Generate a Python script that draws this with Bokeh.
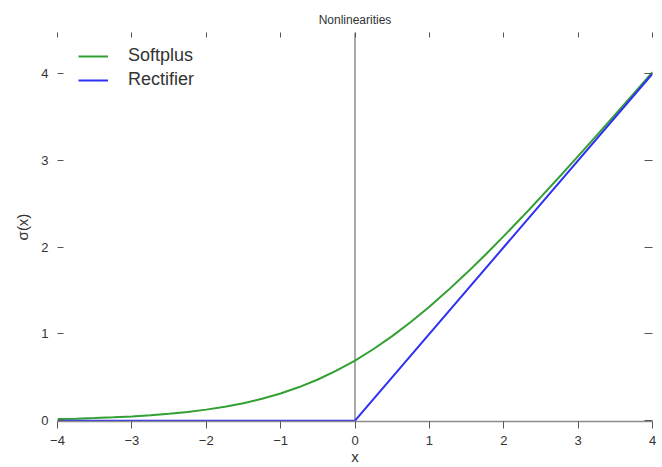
from bokeh.plotting import figure
from bokeh.models import (Range1d, LinearAxis, Span, Legend, LegendItem,
                          FixedTicker, CustomJSTickFormatter)
from bokeh.embed import file_html
from bokeh.resources import INLINE

# ---- data ----
softplus_x = [-4.0, -3.75, -3.5, -3.25, -3.0, -2.75, -2.5, -2.25, -2.0, -1.75, -1.5,
              -1.25, -1.0, -0.75, -0.5, -0.25, 0.0, 0.25, 0.5, 0.75, 1.0, 1.25, 1.5,
              1.75, 2.0, 2.25, 2.5, 2.75, 3.0, 3.25, 3.5, 3.75, 4.0]
softplus_y = [0.018, 0.023, 0.030, 0.038, 0.049, 0.062, 0.079, 0.100, 0.127, 0.160, 0.201,
              0.252, 0.313, 0.387, 0.474, 0.576, 0.693, 0.826, 0.974, 1.137, 1.313, 1.502,
              1.701, 1.910, 2.127, 2.350, 2.579, 2.812, 3.049, 3.288, 3.530, 3.773, 4.018]
rectifier_x = [-4, 0, 4]
rectifier_y = [0, 0, 4]
x_ticks = [-4, -3, -2, -1, 0, 1, 2, 3, 4]
y_ticks = [0, 1, 2, 3, 4]

FONT = "Liberation Sans"
TXT = "#333333"
GRAY = "#8c8c8c"

p = figure(width=662, height=467, output_backend="svg", toolbar_location=None,
           x_range=Range1d(-4, 4), y_range=Range1d(-0.01, 4.475),
           x_axis_location=None, y_axis_location=None,
           min_border_left=57, min_border_right=10, min_border_top=32, min_border_bottom=46)
p.outline_line_color = None
p.background_fill_color = "white"
p.border_fill_color = "white"
for g in p.grid:
    g.visible = False

minus_fmt = CustomJSTickFormatter(code="return tick < 0 ? '\\u2212' + Math.abs(tick) : String(tick);")
blank_fmt = CustomJSTickFormatter(code="return '';")

def style_common(ax):
    ax.major_label_text_font = FONT
    ax.major_label_text_font_size = "13px"
    ax.major_label_text_color = TXT
    ax.minor_tick_line_color = None
    ax.major_tick_line_color = "#555555"
    ax.major_tick_line_width = 1

# bottom axis
bottom = LinearAxis(ticker=FixedTicker(ticks=x_ticks), formatter=minus_fmt, axis_label="x")
style_common(bottom)
bottom.axis_line_color = GRAY
bottom.axis_line_width = 1.5
bottom.major_tick_in = 0
bottom.major_tick_out = 7
bottom.major_label_standoff = 7
bottom.axis_label_text_font = FONT
bottom.axis_label_text_font_size = "15px"
bottom.axis_label_text_font_style = "normal"
bottom.axis_label_text_color = TXT
bottom.axis_label_standoff = 0
p.add_layout(bottom, "below")

# left axis
left = LinearAxis(ticker=FixedTicker(ticks=y_ticks), axis_label="σ(x)")
style_common(left)
left.axis_line_color = None
left.major_tick_in = 6
left.major_tick_out = 0
left.major_label_standoff = 9
left.axis_label_text_font = FONT
left.axis_label_text_font_size = "15px"
left.axis_label_text_font_style = "normal"
left.axis_label_text_color = TXT
left.axis_label_standoff = 7
p.add_layout(left, "left")

# top axis (ticks only)
top = LinearAxis(ticker=FixedTicker(ticks=x_ticks), formatter=blank_fmt)
style_common(top)
top.axis_line_color = None
top.major_tick_in = 5
top.major_tick_out = 0
top.major_label_standoff = 0
p.add_layout(top, "above")

# right axis (ticks only)
right = LinearAxis(ticker=FixedTicker(ticks=y_ticks), formatter=blank_fmt)
style_common(right)
right.axis_line_color = None
right.major_tick_in = 8
right.major_tick_out = 0
right.major_label_standoff = 0
p.add_layout(right, "right")

# zero line
p.add_layout(Span(location=0, dimension="height", line_color=GRAY, line_width=1.5,
                  level="underlay"))

r_soft = p.line(softplus_x, softplus_y, line_color="#32a032", line_width=2)
r_rect = p.line(rectifier_x, rectifier_y, line_color="#2f2ff5", line_width=2)

legend = Legend(items=[LegendItem(label="Softplus", renderers=[r_soft]),
                       LegendItem(label="Rectifier", renderers=[r_rect])],
                location=(21, 331), border_line_color=None, background_fill_alpha=0,
                glyph_width=30, glyph_height=20, label_height=20, label_standoff=20,
                spacing=3, padding=0, margin=0,
                label_text_font=FONT, label_text_font_size="18px", label_text_color=TXT)
p.add_layout(legend)

# title
p.title.text = "Nonlinearities"
p.title.align = "center"
p.title.text_font = FONT
p.title.text_font_size = "12px"
p.title.text_font_style = "normal"
p.title.text_color = TXT
p.title.standoff = 12

open("out.html", "w").write(file_html(p, INLINE))
